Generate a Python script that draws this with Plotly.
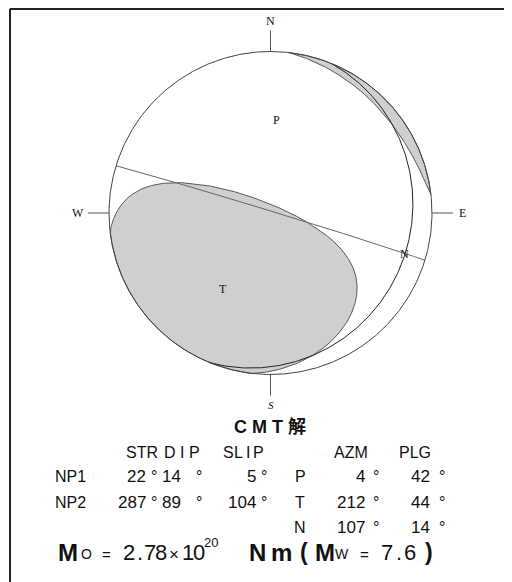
import numpy as np
import plotly.graph_objects as go

# ---- data -------------------------------------------------------------
NP_NAME = ['NP1', 'NP2']
STRIKE  = [22, 287]
DIP     = [14, 89]
SLIP    = [5, 104]

AX_NAME = ['P', 'T', 'N']
AX_AZM  = [4, 212, 107]
AX_PLG  = [42, 44, 14]
AX_EIG  = [-0.76, 1.00, -0.24]   # moment tensor eigenvalues (T normalised)

M0_MANT = 2.78
M0_EXP  = 20
MW      = 7.6

# ---- layout constants --------------------------------------------------
PAGE_M = 8                     # default body margin of the html page
W, H = 512 - PAGE_M, 582 - PAGE_M
CX, CY, R = 270.5, 213.0, 161.5       # page-pixel centre / radius of the net
SERIF  = 'Liberation Serif, Times New Roman, serif'
SANS   = 'Liberation Sans, Arial, sans-serif'
FILL, EDGE = '#cfcfcf', '#5a5a5a'


def vec(az, pl):
    a, p = np.radians(az), np.radians(pl)
    return np.array([np.cos(p) * np.sin(a), np.cos(p) * np.cos(a), np.sin(p)])


def proj(u):
    # lower hemisphere, equal area (Schmidt); u = (E, N, Down)
    u = np.where(u[2] < 0, -u, u)
    k = 1 / np.sqrt(1 + u[2])
    return u[0] * k, u[1] * k


def great_circle(strike, dip, n=240):
    s = np.radians(strike); d = np.radians(dip)
    sv = np.array([np.sin(s), np.cos(s), 0.0])
    dv = np.array([np.cos(d) * np.sin(s + np.pi / 2),
                   np.cos(d) * np.cos(s + np.pi / 2), np.sin(d)])
    t = np.linspace(0, np.pi, n)
    u = np.outer(sv, np.cos(t)) + np.outer(dv, np.sin(t))
    return proj(u)


# moment tensor from principal axes
axes = {k: vec(a, p) for k, a, p in zip(AX_NAME, AX_AZM, AX_PLG)}
eig = dict(zip(AX_NAME, AX_EIG))
M = sum(eig[k] * np.outer(axes[k], axes[k]) for k in AX_NAME)


def f(u):
    return np.einsum('i...,ij,j...->...', u, M, u)


# orthonormal frame around T
t = axes['T'] / np.linalg.norm(axes['T'])
nn = axes['N'] - axes['N'].dot(t) * t; nn /= np.linalg.norm(nn)
pp = np.cross(t, nn)
if pp.dot(axes['P']) < 0:
    pp = -pp

# nodal cone around T
psi = np.linspace(0, 2 * np.pi, 3600, endpoint=False)
den = -(eig['N'] * np.cos(psi) ** 2 + eig['P'] * np.sin(psi) ** 2)
th = np.arctan(np.sqrt(eig['T'] / den))
wv = np.outer(nn, np.cos(psi)) + np.outer(pp, np.sin(psi))
cone = np.outer(t, np.cos(th)) + wv * np.sin(th)

sgn = cone[2] >= 0
chg = np.where(sgn != np.roll(sgn, 1))[0]
cone = np.roll(cone, -chg[0], axis=1)
sgn = np.roll(sgn, -chg[0])
runs, start = [], 0
for i in range(1, len(sgn) + 1):
    if i == len(sgn) or sgn[i] != sgn[start]:
        runs.append(cone[:, start:i]); start = i

polys = []
for run in runs:
    x, y = proj(run)
    a0 = np.arctan2(x[0], y[0]); a1 = np.arctan2(x[-1], y[-1])
    best, score = None, -1
    for direc in (1, -1):
        span = (a0 - a1) % (2 * np.pi) if direc == 1 else -((a1 - a0) % (2 * np.pi))
        arc = a1 + np.linspace(0, span, 300)
        hv = np.array([np.sin(arc), np.cos(arc), np.zeros_like(arc)])
        sc = np.mean(f(hv[:, 5:-5]) > 0)
        if sc > score:
            best, score = arc, sc
    px = np.concatenate([x, np.sin(best)])
    py = np.concatenate([y, np.cos(best)])
    polys.append((px, py))

fig = go.Figure()

ang = np.linspace(0, 2 * np.pi, 721)
for px, py in polys:
    fig.add_trace(go.Scatter(x=px, y=py, mode='lines', fill='toself',
                             fillcolor=FILL, line=dict(color=EDGE, width=1),
                             hoverinfo='skip'))

# nodal planes
for i, (s, d) in enumerate(zip(STRIKE, DIP)):
    gx, gy = great_circle(s, d)
    fig.add_trace(go.Scatter(x=gx, y=gy, mode='lines',
                             line=dict(color='#222' if i == 0 else '#666', width=1),
                             hoverinfo='skip'))

fig.add_trace(go.Scatter(x=np.sin(ang), y=np.cos(ang), mode='lines',
                         line=dict(color='#444', width=1), hoverinfo='skip'))

# compass ticks
TL = 0.13
for dx, dy, lab in [(0, 1, 'N'), (1, 0, 'E'), (0, -1, 'S'), (-1, 0, 'W')]:
    fig.add_trace(go.Scatter(x=[dx, dx * (1 + TL)], y=[dy, dy * (1 + TL)],
                             mode='lines', line=dict(color='#555', width=1),
                             hoverinfo='skip'))
    fig.add_annotation(x=dx * 1.19, y=dy * 1.19,
                       text=lab if lab != 'S' else '<i>S</i>', showarrow=False,
                       font=dict(family=SERIF, size=12 if lab != 'S' else 11,
                                 color='#111'),
                       xanchor='center', yanchor='middle')

# axis labels
for k in AX_NAME:
    ax_, ay_ = proj(axes[k])
    fig.add_annotation(x=float(ax_), y=float(ay_), text=k, showarrow=False,
                       font=dict(family=SERIF, size=12, color='#111'),
                       xanchor='center', yanchor='middle')


def px2p(x, y):
    return (x - PAGE_M) / W, 1 - (y - PAGE_M) / H


def txt(x, y, s, size=17, anchor='left', bold=False, fam=SANS):
    xp, yp = px2p(x, y)
    fig.add_annotation(xref='paper', yref='paper', x=xp, y=yp,
                       text=f'<b>{s}</b>' if bold else s, showarrow=False,
                       xanchor=anchor, yanchor='middle', borderpad=0,
                       font=dict(family=fam, size=size, color='#111'))


def spread(x0, x1, y, s, size=17, bold=False):
    step = (x1 - x0) / len(s)
    for i, ch in enumerate(s):
        txt(x0 + (i + 0.5) * step, y, ch, size=size, anchor='center', bold=bold)


txt(270, 427, 'C M T 解', size=18, anchor='center', bold=True,
    fam='Liberation Sans, Noto Sans CJK JP, sans-serif')

txt(142, 452, 'STR', size=16, anchor='center')
spread(164, 200, 452, 'DIP', size=16)
spread(223, 263, 452, 'SLIP', size=16)
txt(351, 452, 'AZM', size=16, anchor='center')
txt(415, 452, 'PLG', size=16, anchor='center')

ROWS = [477, 502, 527]
for i in range(2):
    y = ROWS[i]
    txt(70, y, NP_NAME[i], size=16, anchor='center')
    for val, xr, xd in [(STRIKE[i], 147, 154), (DIP[i], 182, 199), (SLIP[i], 257, 264)]:
        txt(xr, y, str(val), anchor='right')
        txt(xd, y, '°', anchor='center', size=16)
for i, k in enumerate(AX_NAME):
    y = ROWS[i]
    txt(300, y, k, anchor='center', size=16)
    for val, xr, xd in [(AX_AZM[i], 366, 376), (AX_PLG[i], 431, 442)]:
        txt(xr, y, str(val), anchor='right')
        txt(xd, y, '°', anchor='center', size=16)

# seismic moment line
ym = 552
txt(68, ym, 'M', size=24, anchor='center', bold=True)
txt(86, ym + 2, 'O', size=14, anchor='center')
txt(106, ym + 2, '=', size=15, anchor='center')
spread(124, 166, ym, f'{M0_MANT:.2f}', size=22)
txt(174, ym + 2, '×', size=17, anchor='center')
spread(182, 204, ym, '10', size=22)
txt(211, ym - 10, str(M0_EXP), size=13, anchor='center')
txt(257, ym, 'N', size=24, bold=True, anchor='center')
txt(281, ym, 'm', size=24, bold=True, anchor='center')
txt(304, ym, '(', size=23, bold=True, anchor='center')
txt(325, ym, 'M', size=24, anchor='center', bold=True)
txt(342, ym + 2, 'W', size=14, anchor='center')
txt(364, ym + 2, '=', size=15, anchor='center')
spread(381, 416, ym, f'{MW:.1f}', size=22)
txt(429, ym, ')', size=23, bold=True, anchor='center')

# frame (left and top edges visible)
fig.add_shape(type='line', xref='paper', yref='paper',
              x0=2 / W, y0=0, x1=2 / W, y1=1 - 1 / H,
              line=dict(color='#222', width=2))
fig.add_shape(type='line', xref='paper', yref='paper',
              x0=2 / W, y0=1 - 1 / H, x1=1, y1=1 - 1 / H,
              line=dict(color='#222', width=2))

cx, cy = CX - PAGE_M, CY - PAGE_M
fig.update_layout(
    width=W, height=H, autosize=False, showlegend=False,
    margin=dict(l=0, r=0, t=0, b=0),
    paper_bgcolor='white', plot_bgcolor='white',
    xaxis=dict(range=[-cx / R, (W - cx) / R], visible=False, fixedrange=True),
    yaxis=dict(range=[-(H - cy) / R, cy / R], visible=False, fixedrange=True),
)
fig.write_html('out.html')
